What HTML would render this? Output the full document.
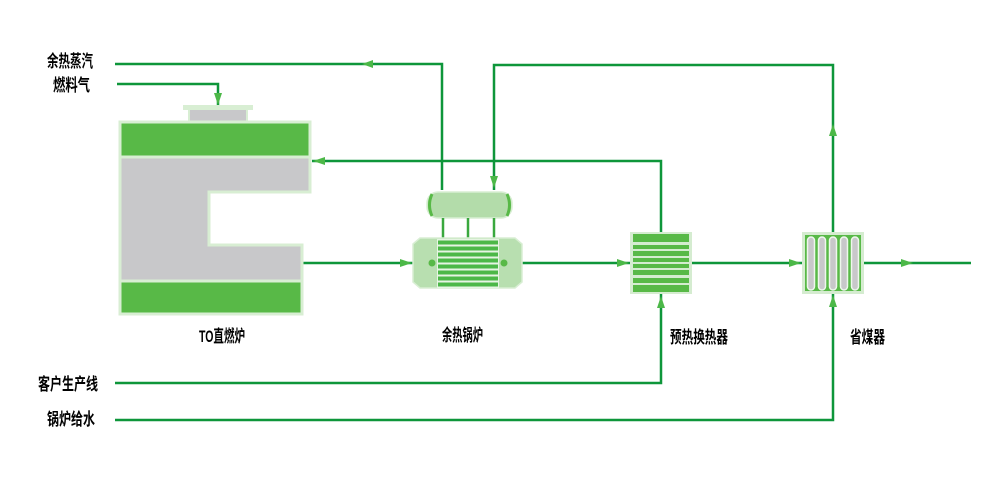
<!DOCTYPE html>
<html><head><meta charset="utf-8"><style>
html,body{margin:0;padding:0;background:#fff;}
svg{display:block;}
text{font-family:"Liberation Sans","Noto Sans CJK SC",sans-serif;font-weight:bold;fill:#000;font-size:17px;}
</style></head><body>
<svg width="1000" height="501" viewBox="0 0 1000 501" xmlns="http://www.w3.org/2000/svg">
<g fill="none" stroke="#0e963a" stroke-width="2.5">
<path d="M115,64 H442 V190"/>
<path d="M494,190 V65 H833 V232"/>
<path d="M661,232 V161 H312"/>
<path d="M117,84 H218 V106"/>
<path d="M303,263 H413"/>
<path d="M522,263 H630"/>
<path d="M692,263 H802"/>
<path d="M864,263 H971"/>
<path d="M115,383 H661 V294"/>
<path d="M115,420 H833 V293"/>
</g>
<g fill="#4cb848">
<polygon points="362,64 373,60 373,68"/>
<polygon points="494,188 490,176 498,176"/>
<polygon points="833,124 829,136 837,136"/>
<polygon points="313,161 325,157 325,165"/>
<polygon points="218,105 214,93 222,93"/>
<polygon points="412,263 400,259 400,267"/>
<polygon points="629,263 617,259 617,267"/>
<polygon points="801,263 789,259 789,267"/>
<polygon points="913,263 901,259 901,267"/>
<polygon points="661,296 657,308 665,308"/>
<polygon points="833,295 829,307 837,307"/>
</g>
<!-- Furnace -->
<rect x="183" y="105" width="70" height="5" fill="#d8eed3"/>
<rect x="189" y="109" width="58" height="13" fill="#c8c8ca" stroke="#d8eed3" stroke-width="2"/>
<rect x="120" y="122" width="190" height="35" fill="#58b947" stroke="#d8eed3" stroke-width="3"/>
<path d="M120,157 H310 V192 H209 V245 H302 V281 H120 Z" fill="#c8c8ca" stroke="#d8eed3" stroke-width="3"/>
<rect x="120" y="281" width="182" height="33" fill="#58b947" stroke="#d8eed3" stroke-width="3"/>
<!-- Boiler drum -->
<rect x="427" y="192" width="85" height="26" rx="11" fill="#b3dcaa" stroke="#d8eed3" stroke-width="1.5"/>
<path d="M432,194 Q427,205 432,216" fill="none" stroke="#58b947" stroke-width="3"/>
<path d="M507,194 Q512,205 507,216" fill="none" stroke="#58b947" stroke-width="3"/>
<g stroke="#3aa83e" stroke-width="2.5">
<line x1="443" y1="218" x2="443" y2="238"/>
<line x1="468" y1="218" x2="468" y2="238"/>
<line x1="494" y1="218" x2="494" y2="238"/>
</g>
<!-- Boiler body -->
<polygon points="413,244 420,238 515,238 522,244 522,282 515,288 420,288 413,282" fill="#b8dfb0" stroke="#d8eed3" stroke-width="1.5"/>
<rect x="437" y="239" width="62" height="49" fill="#e6f4e3"/>
<g fill="#4cb848">
<rect x="438" y="240.5" width="60" height="4"/>
<rect x="438" y="246.5" width="60" height="4"/>
<rect x="438" y="252.5" width="60" height="4"/>
<rect x="438" y="258.5" width="60" height="4"/>
<rect x="438" y="264.5" width="60" height="4"/>
<rect x="438" y="270.5" width="60" height="4"/>
<rect x="438" y="276.5" width="60" height="4"/>
<rect x="438" y="282.5" width="60" height="4"/>
</g>
<circle cx="432" cy="263" r="3.5" fill="#58b947"/>
<circle cx="504" cy="263" r="3.5" fill="#58b947"/>
<!-- Preheater -->
<rect x="630" y="232" width="62" height="62" fill="#d5ecd0"/>
<g fill="#58b947">
<rect x="633" y="234" width="56" height="8"/>
<rect x="633" y="245" width="56" height="4"/>
<rect x="633" y="251" width="56" height="5"/>
<rect x="633" y="258" width="56" height="4"/>
<rect x="633" y="264" width="56" height="4"/>
<rect x="633" y="270" width="56" height="5"/>
<rect x="633" y="278" width="56" height="5"/>
<rect x="633" y="285" width="56" height="7"/>
</g>
<!-- Economizer -->
<rect x="802" y="232" width="62" height="62" fill="#d5ecd0"/>
<rect x="805" y="235" width="56" height="56" fill="#58b947"/>
<g fill="#c8c8ca" stroke="#eef7ec" stroke-width="1.5">
<rect x="807.5" y="237" width="7" height="53" rx="3.5"/>
<rect x="818.5" y="237" width="7" height="53" rx="3.5"/>
<rect x="829.5" y="237" width="7" height="53" rx="3.5"/>
<rect x="840.5" y="237" width="7" height="53" rx="3.5"/>
<rect x="851.5" y="237" width="7" height="53" rx="3.5"/>
</g>
<!-- Labels -->
<text x="47" y="67" textLength="46" lengthAdjust="spacingAndGlyphs">余热蒸汽</text>
<text x="53" y="91" textLength="37" lengthAdjust="spacingAndGlyphs">燃料气</text>
<text x="199" y="342" textLength="46" lengthAdjust="spacingAndGlyphs">TO直燃炉</text>
<text x="442" y="341" textLength="41" lengthAdjust="spacingAndGlyphs">余热锅炉</text>
<text x="670" y="343" textLength="58" lengthAdjust="spacingAndGlyphs">预热换热器</text>
<text x="850" y="343" textLength="35" lengthAdjust="spacingAndGlyphs">省煤器</text>
<text x="38" y="390" textLength="60" lengthAdjust="spacingAndGlyphs">客户生产线</text>
<text x="47" y="425" textLength="48" lengthAdjust="spacingAndGlyphs">锅炉给水</text>
</svg>
</body></html>
